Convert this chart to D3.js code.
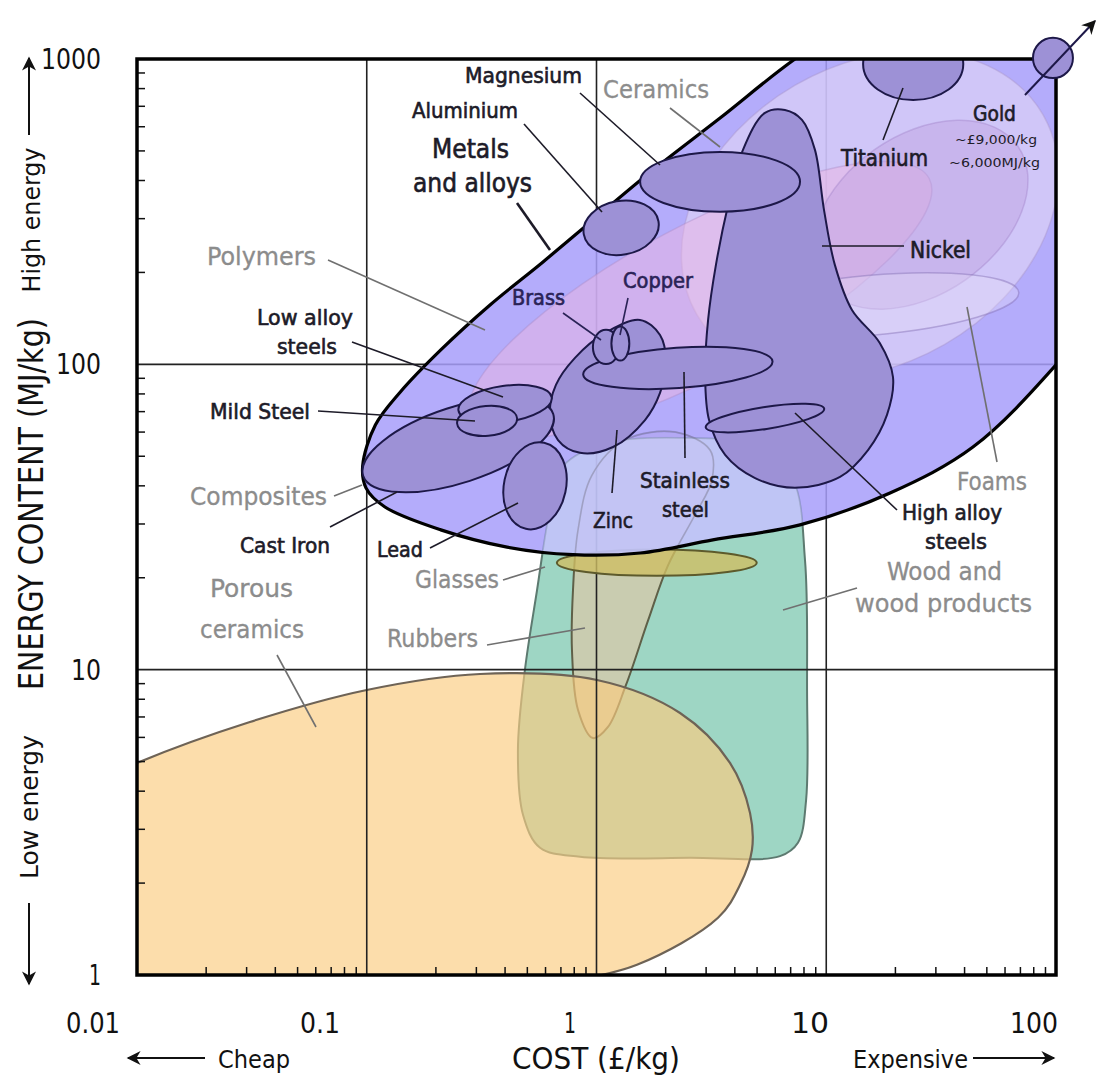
<!DOCTYPE html>
<html>
<head>
<meta charset="utf-8">
<script src="https://cdn.jsdelivr.net/npm/d3@7"></script>
<style>
body { margin: 0; background: #fff; }
svg text { font-family: "DejaVu Sans Condensed", "DejaVu Sans", sans-serif; }
</style>
</head>
<body>
<script>
// Energy content vs cost chart for material families (log-log)
var width = 1101, height = 1078;

// axis ticks
var costTicks = [0.01, 0.1, 1, 10, 100];
var costTickLabels = ["0.01", "0.1", "1", "10", "100"];
var energyTicks = [1, 10, 100, 1000];
var energyTickLabels = ["1", "10", "100", "1000"];
var costGrid = [0.1, 1, 10];
var energyGrid = [10, 100];

// free form zones, points are [cost £/kg, energy MJ/kg]
var metalsEnvelope = [
  [0.096, 46.5], [0.109, 63.3], [0.14, 81.2], [0.21, 111.5], [0.344, 156.5],
  [0.585, 216.5], [0.965, 297], [1.76, 433], [3.45, 641], [7.31, 1000],
  [17.1, 1504], [57, 1960], [190, 854], [180, 175], [100, 99.6],
  [43.5, 53.6], [18.95, 37.9], [7.69, 29.8], [3.21, 26.6], [1.55, 24.1],
  [0.79, 23.8], [0.408, 25.2], [0.21, 28.7], [0.12, 34.1], [0.0992, 39.4]
];
var woodZone = [
  [0.694, 45.1], [1.036, 54.5], [2.31, 57.4], [5.15, 53.6], [7.17, 41.8],
  [8.08, 22.9], [8.25, 8.58], [8.17, 3.74], [7.53, 2.71], [6.29, 2.45],
  [2.55, 2.42], [0.848, 2.44], [0.568, 2.61], [0.479, 3.34], [0.455, 5.46],
  [0.488, 9.98], [0.551, 18.2], [0.615, 30.9]
];
var rubbersZone = [
  [0.965, 5.97], [0.831, 7.38], [0.782, 11.6], [0.79, 18.2], [0.831, 28.7],
  [0.956, 43.4], [1.33, 56.5], [2.2, 60.0], [3.12, 52.4], [3.18, 41.8],
  [2.68, 32.1], [2.05, 22.0], [1.68, 14.55], [1.344, 8.91], [1.122, 6.49]
];
var porousCeramicsZone = [
  [0.00565, 4.04], [0.01, 4.95], [0.031, 6.74], [0.1, 8.58], [0.311, 9.68],
  [1.005, 9.25], [2.31, 7.21], [3.81, 4.95], [4.66, 3.39], [4.75, 2.57],
  [4.21, 1.97], [3.38, 1.54], [1.50, 1.08], [0.66, 0.93], [0.2, 0.768],
  [0.00565, 0.768]
];
var nickelZone = [
  [5.41, 666], [6.61, 681], [7.84, 632], [8.93, 504], [9.78, 320],
  [10.9, 211.7], [12.94, 150.7], [17.1, 117.5], [19.52, 90.9], [18.38, 68.3],
  [15.2, 52.4], [11.48, 42.8], [7.31, 39.4], [4.9, 42.4], [3.63, 50.5],
  [3.09, 65.7], [2.97, 92.3], [3.06, 139.8], [3.31, 211.7], [3.74, 332.7],
  [4.34, 504]
];
var zincZone = [
  [1.546, 139.8], [1.89, 124.8], [2.007, 101.8], [1.89, 80.6], [1.626, 65.7],
  [1.18, 53.6], [0.848, 51.3], [0.68, 56.5], [0.627, 69.3], [0.666, 85.6],
  [0.806, 105], [1.089, 126.7]
];

// elliptic zones: [cost, energy, half width (cost decades), half height (energy decades), tilt deg]
var ceramicsZone = [15.5, 309, 0.87, 0.49, -30];
var polymersZone = [2.82, 162, 1.13, 0.246, -28];
var denseCeramicsZone = [25.6, 309, 0.52, 0.26, -35];
var foamsZone = [15.5, 156, 0.65, 0.098, -5];
var glassesZone = [1.83, 22.4, 0.435, 0.043, 0];
var castIron = [0.25, 54.5, 0.435, 0.124, -18];
var lead = [0.54, 40, 0.135, 0.144, 12];
var lowAlloySteel = [0.40, 74.2, 0.205, 0.059, -8];
var mildSteel = [0.334, 65.3, 0.131, 0.049, -5];
var stainlessSteel = [2.26, 97.3, 0.413, 0.066, -4];
var highAlloySteel = [5.41, 66.7, 0.261, 0.036, -9];
var magnesium = [3.45, 396, 0.348, 0.098, 0];
var aluminium = [1.28, 280, 0.165, 0.088, -10];
var titanium = [23.9, 963, 0.218, 0.118, 0];
var brass = [1.10, 114, 0.057, 0.056, 0];
var copper = [1.27, 117, 0.039, 0.056, 0];
var gold = [97, 1008, 0.087, 0.066, 0];

var black = "#1d1b28", gray = "#8c8c8c", navy = "#2a2356";
var metalFill = "#9d91d6", metalStroke = "#1d1848";

// labels: text, x, y, font size, colour, length
var labels = [
  ["Magnesium", 465, 83, 22, black, 117],
  ["Aluminium", 412, 118, 22, black, 106],
  ["Metals", 432, 158, 26, black, 77],
  ["and alloys", 413, 192, 26, black, 119],
  ["Ceramics", 603, 98, 25, gray, 106],
  ["Titanium", 841, 166, 23, black, 87],
  ["Gold", 973, 121, 21, black, 43],
  ["~£9,000/kg", 955, 144, 13, black, 82],
  ["~6,000MJ/kg", 949, 167, 13, black, 91],
  ["Nickel", 910, 258, 23, black, 61],
  ["Polymers", 207, 265, 25, gray, 109],
  ["Copper", 623, 288, 21, navy, 70],
  ["Brass", 512, 305, 21, navy, 53],
  ["Low alloy", 257, 325, 22, black, 96],
  ["steels", 277, 354, 22, black, 60],
  ["Mild Steel", 210, 419, 22, black, 100],
  ["Composites", 190, 505, 25, gray, 137],
  ["Cast Iron", 240, 553, 22, black, 90],
  ["Lead", 377, 557, 22, black, 46],
  ["Zinc", 593, 528, 22, black, 40],
  ["Stainless", 640, 488, 22, black, 90],
  ["steel", 662, 517, 22, black, 47],
  ["Foams", 957, 490, 24, gray, 70],
  ["High alloy", 902, 520, 22, black, 100],
  ["steels", 925, 549, 22, black, 62],
  ["Glasses", 415, 588, 24, gray, 84],
  ["Wood and", 887, 580, 25, gray, 115],
  ["wood products", 855, 612, 25, gray, 177],
  ["Porous", 210, 597, 25, gray, 83],
  ["ceramics", 200, 638, 25, gray, 104],
  ["Rubbers", 387, 647, 24, gray, 91]
];

// leader lines: x1, y1, x2, y2, colour
var leaders = [
  [580, 93, 660, 165, black], [524, 124, 602, 212, black], [517, 203, 550, 250, black],
  [670, 108, 720, 147, gray], [883, 140, 903, 88, black], [822, 246, 904, 246, black],
  [328, 260, 485, 330, gray], [628, 298, 620, 335, navy], [563, 313, 601, 340, navy],
  [352, 342, 503, 397, black], [318, 411, 475, 421, black], [334, 496, 362, 485, gray],
  [330, 527, 397, 492, black], [430, 548, 518, 503, black], [612, 493, 617, 430, black],
  [685, 458, 684, 372, black], [897, 510, 795, 413, black], [997, 462, 967, 307, gray],
  [503, 580, 545, 567, gray], [857, 588, 783, 610, gray], [277, 655, 316, 727, gray],
  [487, 645, 585, 628, gray]
];

var x = d3.scaleLog().domain([0.01, 100]).range([137, 1056]);
var y = d3.scaleLog().domain([1, 1000]).range([975, 59]);

var svg = d3.select("body").append("svg")
  .attr("width", width)
  .attr("height", height);

var defs = svg.append("defs");
defs.append("clipPath").attr("id", "plot")
  .append("rect")
  .attr("x", 137).attr("y", 59)
  .attr("width", 1056 - 137).attr("height", 975 - 59);

defs.append("marker")
  .attr("id", "head")
  .attr("viewBox", "0 0 10 10")
  .attr("refX", 9).attr("refY", 5)
  .attr("markerWidth", 16).attr("markerHeight", 14)
  .attr("markerUnits", "userSpaceOnUse")
  .attr("orient", "auto")
  .append("path")
  .attr("d", "M0,0 L10,5 L0,10 L3,5 Z")
  .attr("fill", "#111");

var line = d3.line()
  .x(function(d) { return x(d[0]); })
  .y(function(d) { return y(d[1]); })
  .curve(d3.curveCatmullRomClosed.alpha(0.5));

defs.append("clipPath").attr("id", "env")
  .append("path").attr("d", line(metalsEnvelope));

var plot = svg.append("g").attr("clip-path", "url(#plot)");

// draws an elliptic zone through the scales
function ellipse(g, e) {
  var cx = x(e[0]), cy = y(e[1]);
  var rx = x(e[0] * Math.pow(10, e[2])) - cx;
  var ry = cy - y(e[1] * Math.pow(10, e[3]));
  return g.append("ellipse")
    .attr("cx", cx).attr("cy", cy)
    .attr("rx", rx).attr("ry", ry)
    .attr("transform", "rotate(" + e[4] + "," + cx + "," + cy + ")");
}

// wood and wood products
plot.append("path").attr("d", line(woodZone))
  .attr("fill", "#9ed6c4").attr("stroke", "#5d7a70").attr("stroke-width", 2);

// rubbers
plot.append("path").attr("d", line(rubbersZone))
  .attr("fill", "rgba(236,196,160,0.55)").attr("stroke", "#5f6048").attr("stroke-width", 2);

// porous ceramics
plot.append("path").attr("d", line(porousCeramicsZone))
  .attr("fill", "rgba(250,203,128,0.66)").attr("stroke", "#6e6356").attr("stroke-width", 2.2);

// gridlines
plot.selectAll(".vgrid").data(costGrid).enter().append("line")
  .attr("x1", function(d) { return x(d); }).attr("x2", function(d) { return x(d); })
  .attr("y1", y(1)).attr("y2", y(1000))
  .attr("stroke", "#222").attr("stroke-width", 1.6);
plot.selectAll(".hgrid").data(energyGrid).enter().append("line")
  .attr("y1", function(d) { return y(d); }).attr("y2", function(d) { return y(d); })
  .attr("x1", x(0.01)).attr("x2", x(100))
  .attr("stroke", "#222").attr("stroke-width", 1.6);

// glasses
ellipse(plot, glassesZone)
  .attr("fill", "rgba(206,190,100,0.8)").attr("stroke", "#5d5a2c").attr("stroke-width", 2);

// metals and alloys envelope
plot.append("path").attr("d", line(metalsEnvelope))
  .attr("fill", "rgba(168,158,250,0.86)");

// wood and rubbers seen through the envelope
var inside = plot.append("g").attr("clip-path", "url(#env)");
inside.append("path").attr("d", line(woodZone))
  .attr("fill", "rgba(222,234,248,0.45)").attr("stroke", "rgba(130,150,170,0.45)").attr("stroke-width", 1.5);
inside.append("path").attr("d", line(rubbersZone))
  .attr("fill", "none").attr("stroke", "rgba(110,110,120,0.35)").attr("stroke-width", 1.5);

// translucent families inside the envelope
ellipse(inside, ceramicsZone)
  .attr("fill", "rgba(236,224,246,0.5)").attr("stroke", "rgba(170,150,200,0.4)").attr("stroke-width", 1.5);
ellipse(inside, polymersZone)
  .attr("fill", "rgba(236,182,226,0.5)").attr("stroke", "rgba(170,140,200,0.4)").attr("stroke-width", 1.5);
ellipse(inside, denseCeramicsZone)
  .attr("fill", "rgba(190,160,224,0.45)").attr("stroke", "rgba(160,130,200,0.4)").attr("stroke-width", 1.5);
ellipse(inside, foamsZone)
  .attr("fill", "rgba(232,224,250,0.35)").attr("stroke", "rgba(130,110,180,0.45)").attr("stroke-width", 1.5);

plot.append("path").attr("d", line(metalsEnvelope))
  .attr("fill", "none").attr("stroke", "#000").attr("stroke-width", 3.2);

// individual metals
function metal(el) {
  el.attr("fill", metalFill).attr("stroke", metalStroke).attr("stroke-width", 2);
}
metal(plot.append("path").attr("d", line(nickelZone)));
metal(plot.append("path").attr("d", line(zincZone)));
[stainlessSteel, highAlloySteel, magnesium, aluminium, titanium, castIron, lead,
 lowAlloySteel, mildSteel, brass, copper].forEach(function(e) { metal(ellipse(plot, e)); });

// minor ticks
var xMinor = x.ticks().filter(function(d) { return costTicks.indexOf(d) < 0; });
var yMinor = y.ticks().filter(function(d) { return energyTicks.indexOf(d) < 0; });
svg.selectAll(".xminor").data(xMinor).enter().append("line")
  .attr("x1", function(d) { return x(d); }).attr("x2", function(d) { return x(d); })
  .attr("y1", y(1)).attr("y2", y(1) - 8)
  .attr("stroke", "#111").attr("stroke-width", 1.5);
svg.selectAll(".yminor").data(yMinor).enter().append("line")
  .attr("y1", function(d) { return y(d); }).attr("y2", function(d) { return y(d); })
  .attr("x1", x(0.01)).attr("x2", x(0.01) + 8)
  .attr("stroke", "#111").attr("stroke-width", 1.5);

// frame
svg.append("rect")
  .attr("x", 137).attr("y", 59)
  .attr("width", 1056 - 137).attr("height", 975 - 59)
  .attr("fill", "none").attr("stroke", "#000").attr("stroke-width", 3.5);

// gold sits on the corner, off the chart
metal(ellipse(svg, gold));
var gx = x(gold[0]), gy = y(gold[1]);
svg.append("line")
  .attr("x1", gx - 28).attr("y1", gy + 37)
  .attr("x2", gx + 42).attr("y2", gy - 37)
  .attr("stroke", metalStroke).attr("stroke-width", 2)
  .attr("marker-end", "url(#head)");

// leaders
svg.selectAll(".leader").data(leaders).enter().append("line")
  .attr("x1", function(d) { return d[0]; }).attr("y1", function(d) { return d[1]; })
  .attr("x2", function(d) { return d[2]; }).attr("y2", function(d) { return d[3]; })
  .attr("stroke", function(d) { return d[4] == gray ? "#707070" : d[4]; })
  .attr("stroke-width", function(d, i) { return i == 2 ? 2.6 : 1.6; });

// zone labels (thin stroke gives the semi bold look)
svg.selectAll(".label").data(labels).enter().append("text")
  .attr("x", function(d) { return d[1]; })
  .attr("y", function(d) { return d[2]; })
  .attr("font-size", function(d) { return d[3]; })
  .attr("fill", function(d) { return d[4]; })
  .attr("stroke", function(d) { return d[4]; })
  .attr("stroke-width", function(d) { return d[3] < 15 ? 0 : (d[4] == gray ? 0.3 : 0.6); })
  .attr("textLength", function(d) { return d[5]; })
  .attr("lengthAdjust", "spacingAndGlyphs")
  .text(function(d) { return d[0]; });

// tick labels
var xLabelPos = [93, 320, 570, 810, 1034];
svg.selectAll(".xtick").data(costTicks).enter().append("text")
  .attr("x", function(d, i) { return xLabelPos[i]; })
  .attr("y", 1033)
  .attr("text-anchor", "middle")
  .attr("font-size", 28)
  .attr("fill", "#111")
  .attr("textLength", function(d, i) { return [54, 40, 12, 38, 48][i]; })
  .attr("lengthAdjust", "spacingAndGlyphs")
  .text(function(d, i) { return costTickLabels[i]; });

svg.selectAll(".ytick").data(energyTicks).enter().append("text")
  .attr("x", 101)
  .attr("y", function(d) { return y(d) + 10; })
  .attr("text-anchor", "end")
  .attr("font-size", 28)
  .attr("fill", "#111")
  .attr("textLength", function(d, i) { return [12, 30, 45, 60][i]; })
  .attr("lengthAdjust", "spacingAndGlyphs")
  .text(function(d, i) { return energyTickLabels[i]; });

// axis titles
svg.append("text")
  .attr("x", 596).attr("y", 1069)
  .attr("text-anchor", "middle")
  .attr("font-size", 30).attr("fill", "#111")
  .attr("textLength", 168).attr("lengthAdjust", "spacingAndGlyphs")
  .text("COST (£/kg)");

svg.append("text")
  .attr("transform", "translate(43,504) rotate(-90)")
  .attr("text-anchor", "middle")
  .attr("font-size", 33).attr("fill", "#111")
  .attr("textLength", 372).attr("lengthAdjust", "spacingAndGlyphs")
  .text("ENERGY CONTENT (MJ/kg)");

svg.append("text")
  .attr("transform", "translate(40,220) rotate(-90)")
  .attr("text-anchor", "middle")
  .attr("font-size", 24).attr("fill", "#111")
  .attr("textLength", 145).attr("lengthAdjust", "spacingAndGlyphs")
  .text("High energy");

svg.append("text")
  .attr("transform", "translate(38,807) rotate(-90)")
  .attr("text-anchor", "middle")
  .attr("font-size", 24).attr("fill", "#111")
  .attr("textLength", 144).attr("lengthAdjust", "spacingAndGlyphs")
  .text("Low energy");

svg.append("text")
  .attr("x", 218).attr("y", 1068)
  .attr("font-size", 25).attr("fill", "#111")
  .attr("textLength", 72).attr("lengthAdjust", "spacingAndGlyphs")
  .text("Cheap");

svg.append("text")
  .attr("x", 853).attr("y", 1068)
  .attr("font-size", 25).attr("fill", "#111")
  .attr("textLength", 115).attr("lengthAdjust", "spacingAndGlyphs")
  .text("Expensive");

// direction arrows
var arrows = [[29, 135, 29, 58], [29, 903, 29, 984], [205, 1058, 128, 1058], [973, 1058, 1054, 1058]];
svg.selectAll(".arrow").data(arrows).enter().append("line")
  .attr("x1", function(d) { return d[0]; }).attr("y1", function(d) { return d[1]; })
  .attr("x2", function(d) { return d[2]; }).attr("y2", function(d) { return d[3]; })
  .attr("stroke", "#111").attr("stroke-width", 2)
  .attr("marker-end", "url(#head)");
</script>
</body>
</html>
